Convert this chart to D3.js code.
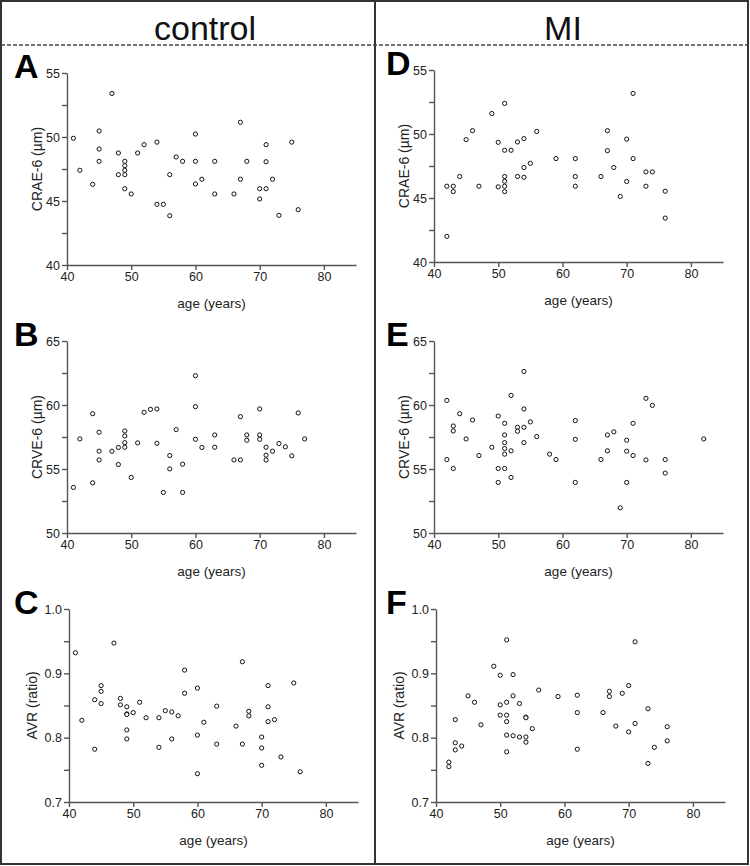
<!DOCTYPE html>
<html><head><meta charset="utf-8">
<script src="https://cdn.jsdelivr.net/npm/d3@7/dist/d3.min.js"></script>
<style>body{margin:0;background:#fff}svg{display:block}</style>
</head><body>
<svg id="chart" width="750" height="866"></svg>
<script>
// ---------- data ----------
const groups = ["control", "MI"];
const panelLetters = ["A", "B", "C", "D", "E", "F"];
const yLabels = ["CRAE-6 (µm)", "CRVE-6 (µm)", "AVR (ratio)"];
const xLabel = "age (years)";
const xTicks = [40, 50, 60, 70, 80];
const craeTicks = [40, 45, 50, 55];
const craeMinor = [42.5, 47.5, 52.5];
const crveTicks = [50, 55, 60, 65];
const crveMinor = [52.5, 57.5, 62.5];
const avrTicks = [0.7, 0.8, 0.9, 1.0];
const avrMinor = [0.75, 0.85, 0.95];

// control: CRAE
const ageA = [47,67,41,45,60,54,52,71,75,45,48,51,57,58,60,63,68,71,45,49,49,42,49,48,49,56,61,67,72,44,60,49,70,71,50,63,66,70,54,55,76,56,73];
const craeControl = [53.4,51.15,49.9,50.47,50.23,49.6,49.4,49.4,49.6,49.06,48.75,48.75,48.44,48.1,48.1,48.1,48.1,48.07,48.1,48.1,47.76,47.4,47.4,47.06,47.06,47.06,46.7,46.7,46.7,46.3,46.33,45.96,45.96,45.96,45.55,45.55,45.55,45.16,44.74,44.74,44.32,43.85,43.88];
// control: CRVE
const ageB = [60,60,44,52,53,54,70,67,76,57,45,49,49,42,51,54,49,60,63,68,68,70,70,77,48,49,61,63,71,73,74,47,45,72,56,71,75,45,67,66,71,48,58,56,50,44,41,55,58];
const crveControl = [62.29,59.87,59.32,59.43,59.66,59.69,59.69,59.09,59.38,58.08,57.87,57.97,57.58,57.35,57.04,57.01,57.06,57.32,57.66,57.66,57.25,57.66,57.32,57.35,56.68,56.7,56.68,56.7,56.7,56.99,56.73,56.39,56.39,56.39,56.05,56.08,56.03,55.71,55.71,55.71,55.71,55.35,55.38,55.01,54.34,53.92,53.56,53.17,53.17];
// control: AVR
const ageC = [47,41,67,58,75,45,71,60,45,58,44,48,45,51,48,49,63,71,55,56,50,68,49,49,57,68,52,54,72,42,61,71,66,49,60,70,49,56,63,67,54,70,44,73,70,76,60];
const avrControl = [0.947,0.932,0.918,0.905,0.885,0.881,0.881,0.877,0.872,0.869,0.859,0.861,0.853,0.855,0.851,0.848,0.849,0.848,0.842,0.840,0.839,0.841,0.837,0.836,0.834,0.834,0.831,0.831,0.828,0.827,0.824,0.825,0.818,0.812,0.804,0.801,0.798,0.798,0.790,0.790,0.785,0.784,0.782,0.770,0.757,0.747,0.744];
// MI: CRAE
const ageD = [71,51,49,46,56,67,45,50,53,54,70,51,52,67,59,62,71,55,54,68,73,74,44,51,53,54,62,66,51,70,42,43,47,50,51,62,73,43,51,76,69,76,42];
const craeMI = [53.17,52.39,51.6,50.26,50.2,50.26,49.56,49.35,49.38,49.64,49.6,48.73,48.73,48.7,48.08,48.08,48.08,47.71,47.38,47.38,47.04,47.04,46.68,46.68,46.68,46.62,46.68,46.68,46.31,46.29,45.92,45.92,45.92,45.87,45.92,45.92,45.92,45.5,45.5,45.53,45.12,43.43,42.0];
// MI: CRVE
const ageE = [54,52,42,73,74,54,44,50,46,62,55,51,71,43,53,54,43,53,68,56,51,67,45,62,70,82,51,54,49,51,52,67,70,51,58,47,71,42,59,66,73,76,43,50,51,76,52,50,62,70,69];
const crveMI = [62.62,60.75,60.36,60.52,59.97,59.69,59.32,59.14,58.83,58.78,58.68,58.57,58.57,58.36,58.26,58.26,57.97,57.95,57.9,57.53,57.66,57.66,57.35,57.32,57.25,57.35,57.06,57.06,56.7,56.6,56.42,56.42,56.39,56.16,56.16,56.05,56.05,55.74,55.74,55.74,55.71,55.74,55.04,55.04,55.04,54.68,54.34,53.95,53.95,53.95,51.97];
// MI: AVR
const ageF = [51,71,49,50,52,70,56,67,69,45,62,52,59,67,46,51,50,53,73,62,66,50,51,54,54,43,51,71,47,68,76,55,70,51,52,53,54,76,54,43,44,74,43,62,51,42,73,42];
const avrMI = [0.952,0.949,0.911,0.897,0.898,0.881,0.874,0.872,0.869,0.865,0.866,0.865,0.864,0.864,0.855,0.855,0.851,0.853,0.845,0.839,0.839,0.835,0.835,0.832,0.831,0.828,0.825,0.822,0.820,0.818,0.817,0.814,0.809,0.804,0.803,0.801,0.801,0.795,0.793,0.792,0.787,0.785,0.781,0.782,0.778,0.762,0.760,0.755];

// ---------- layout ----------
const FONT = "'Liberation Sans', Arial, Helvetica, sans-serif";
const svg = d3.select("#chart");
const INK = "#333";

const panels = [
  {letter: panelLetters[0], ages: ageA, vals: craeControl, col: 0, x0: 67, yTop: 73, yBot: 265, ticks: craeTicks, minor: craeMinor, label: yLabels[0], fmt: d => d},
  {letter: panelLetters[1], ages: ageB, vals: crveControl, col: 0, x0: 67, yTop: 341, yBot: 533, ticks: crveTicks, minor: crveMinor, label: yLabels[1], fmt: d => d},
  {letter: panelLetters[2], ages: ageC, vals: avrControl, col: 0, x0: 69, yTop: 609, yBot: 802, ticks: avrTicks, minor: avrMinor, label: yLabels[2], fmt: d => d.toFixed(1)},
  {letter: panelLetters[3], ages: ageD, vals: craeMI, col: 1, x0: 434, yTop: 70, yBot: 262, ticks: craeTicks, minor: craeMinor, label: yLabels[0], fmt: d => d},
  {letter: panelLetters[4], ages: ageE, vals: crveMI, col: 1, x0: 434, yTop: 341, yBot: 533, ticks: crveTicks, minor: crveMinor, label: yLabels[1], fmt: d => d},
  {letter: panelLetters[5], ages: ageF, vals: avrMI, col: 1, x0: 436, yTop: 609, yBot: 802, ticks: avrTicks, minor: avrMinor, label: yLabels[2], fmt: d => d.toFixed(1)}
];

// frame
svg.append("rect").attr("x", 1).attr("y", 1).attr("width", 747).attr("height", 863)
  .attr("fill", "none").attr("stroke", INK).attr("stroke-width", 2);
svg.append("line").attr("x1", 375).attr("x2", 375).attr("y1", 1).attr("y2", 865)
  .attr("stroke", INK).attr("stroke-width", 2);
svg.append("line").attr("x1", 1).attr("x2", 749).attr("y1", 45).attr("y2", 45)
  .attr("stroke", "#444").attr("stroke-width", 1.5).attr("stroke-dasharray", "4,2");

// headers
[205, 563].forEach((cx, i) => {
  svg.append("text").attr("x", cx).attr("y", 40).attr("text-anchor", "middle")
    .attr("font-family", FONT).attr("font-size", 34).attr("fill", "#111")
    .text(groups[i]);
});

panels.forEach(p => {
  const x = d3.scaleLinear().domain([40, 85]).range([p.x0, p.x0 + 289]);
  const y = d3.scaleLinear().domain([p.ticks[0], p.ticks[p.ticks.length - 1]]).range([p.yBot, p.yTop]);
  const g = svg.append("g");

  // minor y ticks
  g.append("g").attr("transform", `translate(${p.x0},0)`)
    .call(d3.axisLeft(y).tickValues(p.minor).tickSize(5).tickSizeOuter(0).tickFormat(""))
    .call(a => a.select(".domain").remove());
  // major y ticks
  g.append("g").attr("transform", `translate(${p.x0},0)`)
    .call(d3.axisLeft(y).tickValues(p.ticks).tickSize(5).tickSizeOuter(0).tickPadding(2).tickFormat(p.fmt));
  // x axis
  g.append("g").attr("transform", `translate(0,${p.yBot})`)
    .call(d3.axisBottom(x).tickValues(xTicks).tickSize(5).tickSizeOuter(0).tickPadding(2));

  g.selectAll(".domain, .tick line").attr("stroke", "#555").attr("stroke-width", 1.4);
  g.selectAll(".tick text").attr("font-family", FONT).attr("font-size", 12.5).attr("fill", "#222");

  // axis labels
  const lx = p.x0 - (p.fmt(p.ticks[0]).toString().length > 2 ? 37 : 30);
  g.append("text")
    .attr("transform", `translate(${lx},${(p.yTop + p.yBot) / 2}) rotate(-90)`)
    .attr("text-anchor", "middle").attr("dy", "0.35em")
    .attr("font-family", FONT).attr("font-size", 14).attr("fill", "#222")
    .text(p.label);
  g.append("text")
    .attr("x", (p.x0 + p.x0 + 289) / 2).attr("y", p.yBot + 43)
    .attr("text-anchor", "middle")
    .attr("font-family", FONT).attr("font-size", 13.5).attr("fill", "#222")
    .text(xLabel);

  // panel letter
  g.append("text").attr("x", p.col === 0 ? 14 : 386).attr("y", p.yTop + 5)
    .attr("font-family", FONT).attr("font-weight", "bold").attr("font-size", 34).attr("fill", "#000")
    .text(p.letter);

  // points
  const pts = p.ages.map((a, i) => ({a, v: p.vals[i]}));
  g.append("g").selectAll("circle").data(pts).join("circle")
    .attr("cx", d => x(d.a)).attr("cy", d => y(d.v)).attr("r", 2.1)
    .attr("fill", "#fff").attr("stroke", "#111").attr("stroke-width", 1);
});
</script>
</body></html>
